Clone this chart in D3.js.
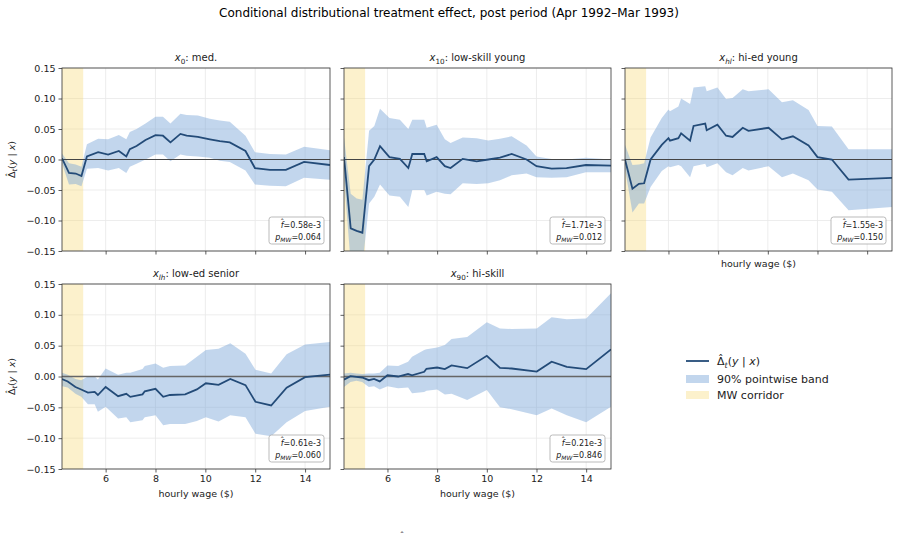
<!DOCTYPE html>
<html>
<head>
<meta charset="utf-8">
<script src="https://cdn.jsdelivr.net/npm/d3@7"></script>
<style>
  body { margin: 0; background: #fff; }
  text { font-family: "DejaVu Sans", sans-serif; }
</style>
</head>
<body>
<div id="chart"></div>
<script>
/* DATA */
const wageMed = [4.25,4.53,4.80,5.03,5.25,5.70,6.10,6.53,6.83,6.97,7.24,7.60,8.00,8.30,8.60,9.00,9.25,9.70,10.18,10.58,10.98,11.61,11.99,12.59,13.23,13.96,15.0];
const effMed  = [0.002,-0.022,-0.023,-0.027,0.005,0.012,0.008,0.014,0.005,0.017,0.022,0.032,0.040,0.039,0.028,0.042,0.039,0.037,0.033,0.030,0.028,0.014,-0.014,-0.017,-0.017,-0.004,-0.009];
const hiMed   = [0.010,-0.006,-0.008,-0.012,0.025,0.034,0.033,0.040,0.033,0.045,0.050,0.059,0.070,0.070,0.059,0.075,0.073,0.072,0.067,0.064,0.062,0.039,0.012,0.009,0.008,0.021,0.015];
const loMed   = [-0.006,-0.041,-0.040,-0.044,-0.015,-0.014,-0.018,-0.014,-0.022,-0.012,-0.007,0.000,0.008,0.008,-0.003,0.008,0.006,0.005,0.003,-0.002,-0.004,-0.018,-0.041,-0.043,-0.044,-0.030,-0.033];

const wageLsy = [4.25,4.52,4.76,4.99,5.26,5.47,5.70,6.08,6.50,6.84,7.00,7.48,7.58,7.98,8.31,8.54,9.03,9.59,10.06,10.53,11.00,11.60,12.00,12.61,13.21,13.99,15.0];
const effLsy  = [0.004,-0.113,-0.117,-0.120,-0.011,0.000,0.022,0.004,0.001,-0.014,0.009,0.009,-0.003,0.004,-0.011,-0.014,0.001,-0.003,0.000,0.003,0.009,0.000,-0.011,-0.015,-0.014,-0.009,-0.010];
const hiLsy   = [0.036,-0.056,-0.064,-0.066,0.047,0.055,0.083,0.068,0.065,0.050,0.065,0.065,0.052,0.057,0.033,0.027,0.036,0.035,0.031,0.034,0.038,0.023,0.005,0.001,0.000,0.003,0.000];
const loLsy   = [-0.030,-0.170,-0.170,-0.175,-0.072,-0.061,-0.041,-0.059,-0.061,-0.078,-0.050,-0.050,-0.059,-0.053,-0.056,-0.057,-0.039,-0.040,-0.039,-0.034,-0.026,-0.023,-0.029,-0.030,-0.029,-0.021,-0.021];

const wageHey = [4.25,4.55,4.81,5.02,5.28,5.73,6.00,6.06,6.40,6.51,6.87,7.01,7.48,7.54,7.97,8.32,8.58,8.99,9.22,10.03,10.57,11.01,11.64,12.00,12.58,13.25,15.0];
const effHey  = [0.000,-0.048,-0.040,-0.039,0.000,0.024,0.035,0.031,0.035,0.043,0.031,0.055,0.059,0.048,0.057,0.039,0.037,0.052,0.047,0.052,0.033,0.038,0.023,0.004,0.000,-0.033,-0.030];
const hiHey   = [0.024,-0.009,-0.008,-0.006,0.036,0.068,0.082,0.079,0.087,0.100,0.091,0.118,0.120,0.112,0.118,0.099,0.101,0.115,0.112,0.115,0.094,0.097,0.081,0.055,0.054,0.017,0.017];
const loHey   = [-0.015,-0.087,-0.072,-0.072,-0.045,-0.019,-0.011,-0.0125,-0.009,-0.011,-0.029,-0.011,-0.007,-0.0125,-0.006,-0.021,-0.026,-0.014,-0.018,-0.011,-0.029,-0.023,-0.034,-0.049,-0.053,-0.083,-0.078];

const wageLes = [4.25,4.48,4.79,5.02,5.29,5.56,5.69,6.00,6.50,6.83,6.99,7.48,7.57,8.00,8.31,8.58,9.19,9.66,10.02,10.53,11.00,11.61,12.01,12.64,13.26,14.00,15.0];
const effLes  = [-0.004,-0.008,-0.017,-0.021,-0.026,-0.025,-0.030,-0.017,-0.032,-0.028,-0.033,-0.029,-0.024,-0.020,-0.033,-0.030,-0.029,-0.021,-0.011,-0.0135,-0.004,-0.014,-0.041,-0.047,-0.018,-0.001,0.003];
const hiLes   = [0.006,0.003,-0.004,-0.006,0.000,0.000,-0.005,0.013,0.003,0.006,0.006,0.012,0.017,0.021,0.014,0.017,0.018,0.032,0.043,0.045,0.054,0.037,0.011,0.005,0.036,0.052,0.056];
const loLes   = [-0.016,-0.018,-0.028,-0.033,-0.045,-0.045,-0.057,-0.049,-0.068,-0.066,-0.074,-0.071,-0.066,-0.063,-0.079,-0.077,-0.077,-0.072,-0.066,-0.073,-0.063,-0.066,-0.093,-0.097,-0.074,-0.056,-0.049];

const wageHs = [4.25,4.51,4.75,4.98,5.25,5.46,5.69,6.00,6.43,6.83,6.99,7.48,7.57,8.00,8.31,8.58,9.21,10.00,10.53,11.00,12.01,12.61,13.22,14.00,15.0];
const effHs  = [-0.005,0.0005,-0.0005,-0.0016,-0.006,-0.004,-0.008,0.002,0.000,0.004,0.002,0.0076,0.0125,0.0146,0.012,0.018,0.0135,0.0336,0.014,0.013,0.008,0.024,0.0157,0.012,0.044];
const hiHs   = [0.005,0.006,0.005,0.004,0.005,0.005,0.006,0.018,0.017,0.024,0.032,0.043,0.044,0.047,0.051,0.061,0.064,0.088,0.078,0.077,0.078,0.096,0.093,0.094,0.135];
const loHs   = [-0.017,-0.009,-0.007,-0.009,-0.017,-0.016,-0.021,-0.016,-0.019,-0.018,-0.027,-0.025,-0.023,-0.021,-0.029,-0.028,-0.038,-0.022,-0.050,-0.053,-0.063,-0.052,-0.063,-0.074,-0.049];

const subs   = ["0", "10", "hl", "lh", "90"];
const labels = ["med.", "low-skill young", "hi-ed young", "low-ed senior", "hi-skill"];
const fHat   = ["0.58e-3", "1.71e-3", "1.55e-3", "0.61e-3", "0.21e-3"];
const pMW    = ["0.064", "0.012", "0.150", "0.060", "0.846"];
const mwCorridor = [4.25, 5.1];
const xTicks = [6, 8, 10, 12, 14];
const yTicks = [-0.15, -0.10, -0.05, 0.00, 0.05, 0.10, 0.15];

const series = [
  [wageMed, effMed, loMed, hiMed],
  [wageLsy, effLsy, loLsy, hiLsy],
  [wageHey, effHey, loHey, hiHey],
  [wageLes, effLes, loLes, hiLes],
  [wageHs, effHs, loHs, hiHs]
];

/* LAYOUT */
const width = 899, height = 542;
const cols = [[62, 330], [344, 611], [625, 892]];
const rows = [[68, 251], [284, 469]];
const lineColor = "#234b78";
const bandColor = "rgb(120,165,215)";
const mwColor = "rgb(245,215,110)";

const svg = d3.select("#chart").append("svg")
  .attr("width", width)
  .attr("height", height);

svg.append("text")
  .attr("x", 449).attr("y", 17)
  .attr("text-anchor", "middle")
  .style("font-size", "12px")
  .text("Conditional distributional treatment effect, post period (Apr 1992\u2013Mar 1993)");

const fmtY = d => d3.format(".2f")(d).replace("-", "\u2212");

// glyph with a hat pulled back over it; returns dx the next tspan needs
function hatted(sel, base, fs, baseW, italic) {
  sel.append("tspan").style("font-style", italic ? "italic" : "normal").text(base);
  const bw = baseW * fs, hw = 0.5 * fs;
  sel.append("tspan").attr("dx", -(bw + hw) / 2).attr("dy", -0.22 * fs).text("\u02C6");
  return (bw - hw) / 2;
}

function deltaLabel(sel, fs) {
  const fix = hatted(sel, "\u0394", fs, 0.684, false);
  sel.append("tspan").attr("dx", fix).attr("dy", 0.22 * fs + 0.25 * fs)
    .style("font-size", (fs * 0.72) + "px").style("font-style", "italic").text("t");
  sel.append("tspan").attr("dy", -0.25 * fs).text("(");
  sel.append("tspan").style("font-style", "italic").text("y");
  sel.append("tspan").text(" | ");
  sel.append("tspan").style("font-style", "italic").text("x");
  sel.append("tspan").text(")");
}

series.forEach((s, i) => {
  const col = cols[i % 3], row = rows[Math.floor(i / 3)];
  const [wage, eff, lo, hi] = s;
  const data = wage.map((w, j) => ({ w, e: eff[j], lo: lo[j], hi: hi[j] }));

  const x = d3.scaleLinear().domain([4.25, 15]).range(col);
  const y = d3.scaleLinear().domain([-0.15, 0.15]).range([row[1], row[0]]);

  const g = svg.append("g");
  const clipId = "clip" + i;
  g.append("clipPath").attr("id", clipId)
    .append("rect")
    .attr("x", col[0]).attr("y", row[0])
    .attr("width", col[1] - col[0]).attr("height", row[1] - row[0]);

  // grid
  g.selectAll(".gx").data(xTicks).join("line")
    .attr("x1", d => x(d)).attr("x2", d => x(d))
    .attr("y1", row[0]).attr("y2", row[1])
    .attr("stroke", "#e8e8e8").attr("stroke-width", 0.8);
  g.selectAll(".gy").data(yTicks).join("line")
    .attr("x1", col[0]).attr("x2", col[1])
    .attr("y1", d => y(d)).attr("y2", d => y(d))
    .attr("stroke", "#e8e8e8").attr("stroke-width", 0.8);

  const plot = g.append("g").attr("clip-path", `url(#${clipId})`);

  // MW corridor
  plot.append("rect")
    .attr("x", x(mwCorridor[0])).attr("y", row[0])
    .attr("width", x(mwCorridor[1]) - x(mwCorridor[0]))
    .attr("height", row[1] - row[0])
    .attr("fill", mwColor).attr("fill-opacity", 0.35);

  // band
  plot.append("path").datum(data)
    .attr("d", d3.area().x(d => x(d.w)).y0(d => y(d.lo)).y1(d => y(d.hi)))
    .attr("fill", bandColor).attr("fill-opacity", 0.45);

  // zero line
  plot.append("line")
    .attr("x1", col[0]).attr("x2", col[1])
    .attr("y1", y(0)).attr("y2", y(0))
    .attr("stroke", i >= 3 ? "#666" : "#444").attr("stroke-width", i >= 3 ? 1.3 : 1);

  // effect line
  plot.append("path").datum(data)
    .attr("d", d3.line().x(d => x(d.w)).y(d => y(d.e)))
    .attr("fill", "none").attr("stroke", lineColor).attr("stroke-width", 1.8);

  // axes
  const showX = i >= 2;
  const xAxis = d3.axisBottom(x).tickValues(xTicks).tickSize(3.5).tickPadding(3)
    .tickFormat(i >= 3 ? d3.format("d") : () => "");
  g.append("g").attr("transform", `translate(0,${row[1]})`).call(xAxis)
    .call(a => a.select(".domain").remove())
    .call(a => a.selectAll("line").attr("stroke", "#333").attr("stroke-width", 0.8))
    .call(a => a.selectAll("text").style("font-size", "9.5px").attr("fill", "#222"))
    .call(a => { if (i < 3) a.selectAll("text").remove(); });

  const yAxis = d3.axisLeft(y).tickValues(yTicks).tickSize(3.5).tickPadding(3)
    .tickFormat(i % 3 === 0 ? fmtY : () => "");
  g.append("g").attr("transform", `translate(${col[0]},0)`).call(yAxis)
    .call(a => a.select(".domain").remove())
    .call(a => a.selectAll("line").attr("stroke", "#333").attr("stroke-width", 0.8))
    .call(a => a.selectAll("text").style("font-size", "9.5px").attr("fill", "#222"))
    .call(a => { if (i % 3 !== 0) a.selectAll("text").remove(); });

  // frame
  g.append("rect")
    .attr("x", col[0]).attr("y", row[0])
    .attr("width", col[1] - col[0]).attr("height", row[1] - row[0])
    .attr("fill", "none").attr("stroke", "#333").attr("stroke-width", 0.8);

  // panel title
  const t = g.append("text")
    .attr("x", (col[0] + col[1]) / 2).attr("y", row[0] - 7)
    .attr("text-anchor", "middle")
    .style("font-size", "10px").attr("fill", "#222");
  t.append("tspan").style("font-style", "italic").text("x");
  t.append("tspan").attr("dy", 2.5).style("font-size", "7.2px")
    .style("font-style", /\d/.test(subs[i]) ? "normal" : "italic").text(subs[i]);
  t.append("tspan").attr("dy", -2.5).text(": " + labels[i]);

  if (showX) {
    g.append("text")
      .attr("x", (col[0] + col[1]) / 2)
      .attr("y", i >= 3 ? row[1] + 28 : row[1] + 16)
      .attr("text-anchor", "middle")
      .style("font-size", "9.5px").attr("fill", "#222")
      .text("hourly wage ($)");
  }

  if (i % 3 === 0) {
    const yl = g.append("text")
      .attr("transform", `translate(15,${(row[0] + row[1]) / 2}) rotate(-90)`)
      .attr("text-anchor", "middle")
      .style("font-size", "9.5px").attr("fill", "#222");
    deltaLabel(yl, 9.5);
  }

  // annotation box
  const bx1 = col[1] - 6, bx0 = bx1 - 55, by1 = row[1] - 7, by0 = by1 - 27;
  g.append("rect")
    .attr("x", bx0).attr("y", by0).attr("width", bx1 - bx0).attr("height", by1 - by0)
    .attr("rx", 2.5)
    .attr("fill", "#fff").attr("fill-opacity", 0.9)
    .attr("stroke", "#aaa").attr("stroke-width", 0.8);
  const a1 = g.append("text").attr("x", bx1 - 3).attr("y", by0 + 11)
    .attr("text-anchor", "end").style("font-size", "8px").attr("fill", "#222");
  const fFix = hatted(a1, "f", 8, 0.35, true);
  a1.append("tspan").attr("dx", fFix).attr("dy", 0.22 * 8).text("=" + fHat[i]);
  const a2 = g.append("text").attr("x", bx1 - 3).attr("y", by0 + 23)
    .attr("text-anchor", "end").style("font-size", "8px").attr("fill", "#222");
  a2.append("tspan").style("font-style", "italic").text("p");
  a2.append("tspan").attr("dy", 2).style("font-size", "6px").style("font-style", "italic").text("MW");
  a2.append("tspan").attr("dy", -2).text("=" + pMW[i]);
});

/* LEGEND */
const lg = svg.append("g").attr("transform", "translate(686,361)");
lg.append("line").attr("x1", 0).attr("x2", 23).attr("y1", 0).attr("y2", 0)
  .attr("stroke", lineColor).attr("stroke-width", 1.8);
const lt = lg.append("text").attr("x", 31).attr("y", 4).style("font-size", "11px").attr("fill", "#222");
deltaLabel(lt, 11);

lg.append("rect").attr("x", 0).attr("y", 14).attr("width", 23).attr("height", 8)
  .attr("fill", bandColor).attr("fill-opacity", 0.45);
lg.append("text").attr("x", 31).attr("y", 22).style("font-size", "11px").attr("fill", "#222")
  .text("90% pointwise band");
lg.append("rect").attr("x", 0).attr("y", 30).attr("width", 23).attr("height", 8)
  .attr("fill", mwColor).attr("fill-opacity", 0.35);
lg.append("text").attr("x", 31).attr("y", 38).style("font-size", "11px").attr("fill", "#222")
  .text("MW corridor");

// stray hat glyph at the bottom edge
svg.append("text").attr("x", 402).attr("y", 539)
  .attr("text-anchor", "middle").style("font-size", "9px").attr("fill", "#222")
  .text("\u02C6");
</script>
</body>
</html>
